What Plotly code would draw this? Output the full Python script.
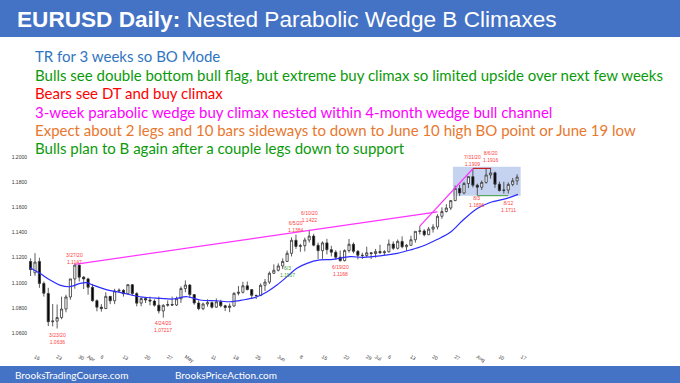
import plotly.graph_objects as go
import pandas as pd

# ---------------- data ----------------
dates = [d.strftime("%Y-%m-%d") for d in pd.bdate_range("2020-03-13", "2020-08-14")]

opens = [
    1.1170,
    1.1080, 1.1170, 1.0995, 1.0915, 1.0690,
    1.0695, 1.0723, 1.0791, 1.0887, 1.1031,
    1.1141, 1.1045, 1.1031, 1.0964, 1.0857,
    1.0806, 1.0795, 1.0892, 1.0857, 1.0935,
    1.0940, 1.0913, 1.0985, 1.0914, 1.0838,
    1.0875, 1.0863, 1.0855, 1.0822, 1.0776,
    1.0820, 1.0827, 1.0823, 1.0873, 1.0954,
    1.0982, 1.0906, 1.0839, 1.0794, 1.0831,
    1.0842, 1.0806, 1.0849, 1.0817, 1.0803,
    1.0815, 1.0916, 1.0924, 1.0976, 1.0946,
    1.0900, 1.0898, 1.0980, 1.1006, 1.1076,
    1.1100, 1.1134, 1.1170, 1.1235, 1.1339,
    1.1290, 1.1296, 1.1341, 1.1372, 1.1300,
    1.1256, 1.1318, 1.1264, 1.1244, 1.1204,
    1.1177, 1.1257, 1.1307, 1.1251, 1.1219,
    1.1218, 1.1239, 1.1233, 1.1249, 1.1240,
    1.1247, 1.1309, 1.1275, 1.1330, 1.1287,
    1.1299, 1.1343, 1.1410, 1.1413, 1.1383,
    1.1428, 1.1445, 1.1530, 1.1568, 1.1596,
    1.1655, 1.1752, 1.1716, 1.1791, 1.1846,
    1.1778, 1.1762, 1.1800, 1.1859, 1.1876,
    1.1786, 1.1735, 1.1739, 1.1784, 1.1813,
]
highs = [
    1.1195,
    1.1236, 1.1200, 1.1010, 1.0960, 1.0831,
    1.0827, 1.0890, 1.0905, 1.1032, 1.1147,
    1.1145, 1.1054, 1.1040, 1.0990, 1.0868,
    1.0830, 1.0925, 1.0892, 1.0952, 1.0955,
    1.0950, 1.0990, 1.0990, 1.0925, 1.0885,
    1.0888, 1.0890, 1.0868, 1.0890, 1.0830,
    1.0860, 1.0890, 1.0890, 1.0972, 1.1019,
    1.0990, 1.0910, 1.0860, 1.0842, 1.0868,
    1.0850, 1.0875, 1.0865, 1.0825, 1.0835,
    1.0925, 1.0975, 1.1008, 1.1010, 1.0950,
    1.0905, 1.0995, 1.1030, 1.1090, 1.1147,
    1.1155, 1.1195, 1.1257, 1.1362, 1.1384,
    1.1310, 1.1360, 1.1422, 1.1390, 1.1320,
    1.1330, 1.1350, 1.1295, 1.1260, 1.1257,
    1.1267, 1.1349, 1.1322, 1.1260, 1.1240,
    1.1288, 1.1245, 1.1270, 1.1303, 1.1260,
    1.1345, 1.1330, 1.1345, 1.1370, 1.1310,
    1.1375, 1.1410, 1.1452, 1.1427, 1.1445,
    1.1467, 1.1546, 1.1601, 1.1627, 1.1660,
    1.1776, 1.1780, 1.1805, 1.1850, 1.1909,
    1.1790, 1.1815, 1.1910, 1.1916, 1.1885,
    1.1807, 1.1805, 1.1800, 1.1835, 1.1865,
]
lows = [
    1.1054,
    1.1055, 1.0960, 1.0890, 1.0655, 1.0653,
    1.0636, 1.0710, 1.0765, 1.0865, 1.0953,
    1.1010, 1.0950, 1.0905, 1.0850, 1.0773,
    1.0770, 1.0790, 1.0830, 1.0830, 1.0920,
    1.0890, 1.0905, 1.0895, 1.0812, 1.0813,
    1.0839, 1.0820, 1.0810, 1.0755, 1.0722,
    1.0810, 1.0815, 1.0815, 1.0840, 1.0925,
    1.0880, 1.0825, 1.0781, 1.0782, 1.0810,
    1.0795, 1.0800, 1.0805, 1.0775, 1.0766,
    1.0810, 1.0900, 1.0915, 1.0940, 1.0870,
    1.0870, 1.0895, 1.0935, 1.0990, 1.1070,
    1.1090, 1.1110, 1.1167, 1.1210, 1.1270,
    1.1247, 1.1250, 1.1320, 1.1290, 1.1190,
    1.1190, 1.1226, 1.1210, 1.1185, 1.1168,
    1.1170, 1.1240, 1.1235, 1.1187, 1.1190,
    1.1205, 1.1190, 1.1200, 1.1230, 1.1222,
    1.1240, 1.1262, 1.1265, 1.1275, 1.1255,
    1.1295, 1.1320, 1.1385, 1.1370, 1.1380,
    1.1400, 1.1425, 1.1510, 1.1560, 1.1580,
    1.1650, 1.1690, 1.1705, 1.1755, 1.1760,
    1.1696, 1.1740, 1.1790, 1.1830, 1.1756,
    1.1727, 1.1711, 1.1711, 1.1770, 1.1780,
]
closes = [
    1.1105,
    1.1165, 1.0995, 1.0917, 1.0690, 1.0695,
    1.0723, 1.0791, 1.0887, 1.1031, 1.1141,
    1.1045, 1.1031, 1.0964, 1.0857, 1.0806,
    1.0795, 1.0892, 1.0857, 1.0935, 1.0940,
    1.0913, 1.0985, 1.0914, 1.0838, 1.0875,
    1.0863, 1.0855, 1.0822, 1.0776, 1.0820,
    1.0827, 1.0823, 1.0873, 1.0954, 1.0982,
    1.0906, 1.0839, 1.0794, 1.0831, 1.0842,
    1.0806, 1.0849, 1.0817, 1.0803, 1.0815,
    1.0916, 1.0924, 1.0976, 1.0946, 1.0900,
    1.0898, 1.0980, 1.1006, 1.1076, 1.1100,
    1.1134, 1.1170, 1.1235, 1.1339, 1.1290,
    1.1296, 1.1341, 1.1372, 1.1300, 1.1256,
    1.1318, 1.1264, 1.1244, 1.1204, 1.1177,
    1.1257, 1.1307, 1.1251, 1.1219, 1.1218,
    1.1239, 1.1233, 1.1249, 1.1240, 1.1247,
    1.1309, 1.1275, 1.1330, 1.1287, 1.1299,
    1.1343, 1.1410, 1.1413, 1.1383, 1.1428,
    1.1445, 1.1530, 1.1568, 1.1596, 1.1655,
    1.1752, 1.1716, 1.1791, 1.1846, 1.1778,
    1.1762, 1.1800, 1.1859, 1.1876, 1.1786,
    1.1735, 1.1739, 1.1784, 1.1813, 1.1842,
]

# 20-bar EMA (bar position, price)
ema_pos = [-0.1, 2.1, 4.4, 6.6, 8.9, 11.2, 12.8, 14.1, 17.3, 20.2, 24.7, 29.3, 32.2,
           35.4, 38.3, 42.1, 45.1, 48.0, 51.2, 53.5, 55.7, 58.0, 60.2, 62.5, 65.4,
           68.4, 72.2, 75.2, 79.0, 82.9, 85.8, 88.7, 91.9, 94.8, 97.8, 100.9, 103.9,
           107.7, 110.2]
ema_val = [1.1120, 1.1076, 1.1022, 1.0982, 1.0969, 1.0996, 1.1001, 1.0982, 1.0943,
           1.0924, 1.0889, 1.0876, 1.0871, 1.0889, 1.0863, 1.0857, 1.0849, 1.0863,
           1.0889, 1.0929, 1.0982, 1.1049, 1.1116, 1.1155, 1.1182, 1.1187, 1.1208,
           1.1203, 1.1214, 1.1235, 1.1261, 1.1293, 1.1345, 1.1400, 1.1500, 1.1590,
           1.1640, 1.1673, 1.1705]

tick_dates = ["2020-03-16", "2020-03-23", "2020-03-30", "2020-04-01", "2020-04-06",
              "2020-04-13", "2020-04-20", "2020-04-27", "2020-05-01", "2020-05-11",
              "2020-05-18", "2020-05-25", "2020-06-01", "2020-06-08", "2020-06-15",
              "2020-06-22", "2020-06-29", "2020-07-01", "2020-07-06", "2020-07-13",
              "2020-07-20", "2020-07-27", "2020-08-03", "2020-08-10", "2020-08-17"]
tick_labels = ["16", "23", "30", "Apr", "6", "13", "20", "27", "May", "11", "18", "25",
               "Jun", "8", "15", "22", "29", "Jul", "6", "13", "20", "27", "Aug", "10", "17"]
price_ticks = [1.06, 1.08, 1.10, 1.12, 1.14, 1.16, 1.18, 1.20]

# trend lines (date, price)
wedge_line_dates = ["2020-03-27", "2020-07-21"]
wedge_line_prices = [1.1147, 1.1565]
para_line_dates = ["2020-07-15", "2020-07-31"]
para_line_prices = [1.1452, 1.1909]

notes_text = ["TR for 3 weeks so BO Mode",
              "Bulls see double bottom bull flag, but extreme buy climax so limited upside over next few weeks",
              "Bears see DT and buy climax",
              "3-week parabolic wedge buy climax nested within 4-month wedge bull channel",
              "Expect about 2 legs and 10 bars sideways to down to June 10 high BO point or June 19 low",
              "Bulls plan to B again after a couple legs down to support"]

# ---------------- helpers ----------------
all_days = [d.strftime("%Y-%m-%d") for d in pd.bdate_range("2020-03-13", "2020-08-21")]
pos = {d: i for i, d in enumerate(all_days)}
xs = [pos[d] for d in dates]

W, H = 680, 383
PX0, PX1 = 28, 680      # plot area pixels
PY0, PY1 = 145, 352
X_RANGE = [-0.583, 146.83]
Y_RANGE = [1.04486, 1.2098]


def px(x):
    return x / W


def py(y):
    return 1 - y / H


BLUE = "#4472C4"
fig = go.Figure()

fig.add_trace(go.Candlestick(
    x=xs, open=opens, high=highs, low=lows, close=closes,
    increasing=dict(fillcolor="white", line=dict(color="#333333", width=0.8)),
    decreasing=dict(fillcolor="black", line=dict(color="#333333", width=0.8)),
    whiskerwidth=0, showlegend=False, hoverinfo="skip"))

fig.add_trace(go.Scatter(x=ema_pos, y=ema_val, mode="lines",
                         line=dict(color="#2b2bff", width=1.2, shape="spline"),
                         showlegend=False, hoverinfo="skip"))

fig.add_trace(go.Scatter(x=[pos[d] for d in wedge_line_dates], y=wedge_line_prices,
                         mode="lines", line=dict(color="#ff33ff", width=1.2),
                         showlegend=False, hoverinfo="skip"))
fig.add_trace(go.Scatter(x=[pos[d] for d in para_line_dates], y=para_line_prices,
                         mode="lines", line=dict(color="#ff33ff", width=1.2),
                         showlegend=False, hoverinfo="skip"))

shapes = []
# header and footer bands
shapes.append(dict(type="rect", xref="paper", yref="paper", x0=0, x1=1,
                   y0=py(37), y1=1, fillcolor=BLUE, line=dict(width=0), layer="below"))
shapes.append(dict(type="rect", xref="paper", yref="paper", x0=0, x1=1,
                   y0=0, y1=py(366), fillcolor=BLUE, line=dict(width=0), layer="below"))
# trading range box
shapes.append(dict(type="rect", xref="x", yref="y", x0=pos["2020-07-27"] - 0.5,
                   x1=pos["2020-08-17"] - 0.2, y0=1.1694, y1=1.1925,
                   fillcolor="rgba(90,130,215,0.35)", line=dict(width=0), layer="below"))
shapes.append(dict(type="line", xref="x", yref="y", x0=pos["2020-07-31"],
                   x1=pos["2020-08-06"], y0=1.1912, y1=1.1912,
                   line=dict(color="#c00000", width=1)))
shapes.append(dict(type="line", xref="x", yref="y", x0=pos["2020-08-03"],
                   x1=pos["2020-08-12"], y0=1.1694, y1=1.1694,
                   line=dict(color="#3a9a3a", width=1)))

annotations = []
annotations.append(dict(xref="paper", yref="paper", x=px(15), y=py(19),
                        xanchor="left", yanchor="middle", showarrow=False,
                        text="<b>EURUSD Daily:</b> Nested Parabolic Wedge B Climaxes",
                        font=dict(family="Liberation Sans, Arial", size=22.6,
                                  color="white")))
note_colors = ["#2f75c0", "#0b9a0b", "#ff0000", "#ff00ff", "#e8782e", "#0b9a0b"]
note_y = [56, 74.5, 93, 111.5, 130, 148]
for t, c, yy in zip(notes_text, note_colors, note_y):
    annotations.append(dict(xref="paper", yref="paper", x=px(33), y=py(yy),
                            xanchor="left", yanchor="middle", showarrow=False,
                            text=t, font=dict(family="Lato", size=15, color=c)))
annotations.append(dict(xref="paper", yref="paper", x=px(13), y=py(375),
                        xanchor="left", yanchor="middle", showarrow=False,
                        text="BrooksTradingCourse.com",
                        font=dict(family="Lato", size=10, color="white")))
annotations.append(dict(xref="paper", yref="paper", x=px(173), y=py(375),
                        xanchor="left", yanchor="middle", showarrow=False,
                        text="BrooksPriceAction.com",
                        font=dict(family="Lato", size=10, color="white")))

# price labels: (date, text, price where label centre sits, colour)
label_specs = [
    ("2020-03-27", "3/27/20<br>1.1147", 1.1190, "#ff4040"),
    ("2020-03-23", "3/23/20<br>1.0636", 1.0560, "#ff4040"),
    ("2020-04-24", "4/24/20<br>1.07217", 1.0648, "#ff4040"),
    ("2020-06-05", "6/5/20<br>1.1384", 1.1450, "#ff4040"),
    ("2020-06-10", "6/10/20<br>1.1422", 1.1528, "#ff4040"),
    ("2020-06-03", "6/3<br>1.1167", 1.1090, "#3a9a3a"),
    ("2020-06-19", "6/19/20<br>1.1168", 1.1102, "#ff4040"),
    ("2020-07-31", "7/31/20<br>1.1909", 1.1978, "#ff4040"),
    ("2020-08-06", "8/6/20<br>1.1916", 1.2010, "#ff4040"),
    ("2020-08-03", "8/3<br>1.1696", 1.1644, "#ff4040"),
    ("2020-08-12", "8/12<br>1.1711", 1.1608, "#ff4040"),
]
for d, t, yv, c in label_specs:
    annotations.append(dict(xref="x", yref="y", x=pos[d], y=yv, showarrow=False,
                            text=t, xanchor="center", yanchor="middle",
                            font=dict(family="Liberation Sans", size=5, color=c)))

fig.update_layout(
    width=W, height=H, margin=dict(l=0, r=0, t=0, b=0),
    paper_bgcolor="white", plot_bgcolor="white",
    shapes=shapes, annotations=annotations,
    xaxis=dict(domain=[PX0 / W, PX1 / W], range=X_RANGE, showgrid=False,
               zeroline=False, showline=False, ticks="",
               tickvals=[pos[d] for d in tick_dates], ticktext=tick_labels,
               tickfont=dict(family="Liberation Sans", size=5, color="#333333"),
               rangeslider=dict(visible=False), automargin=False),
    yaxis=dict(domain=[py(PY1), py(PY0)], range=Y_RANGE, showgrid=False,
               zeroline=False, showline=False, ticks="",
               tickvals=price_ticks, ticktext=["%.4f" % v for v in price_ticks],
               tickfont=dict(family="Liberation Sans", size=5, color="#333333"),
               automargin=False),
    font=dict(family="Liberation Sans"),
)

fig.write_html("out.html", config={"displayModeBar": False},
               post_script="document.body.style.margin='0';")
